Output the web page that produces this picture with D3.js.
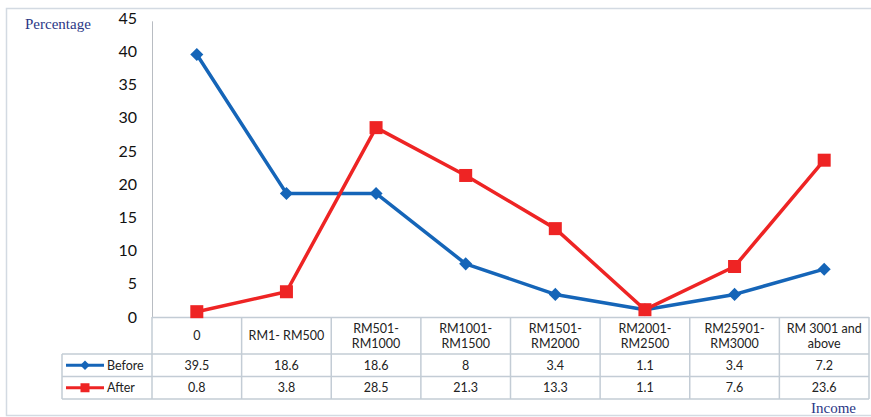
<!DOCTYPE html>
<html>
<head>
<meta charset="utf-8">
<script src="https://cdn.jsdelivr.net/npm/d3@7"></script>
<style>
  body { margin: 0; background: #fff; }
  svg { display: block; }
</style>
</head>
<body>
<div id="chart-area"></div>
<script>
const categories = ["0", "RM1- RM500", "RM501-\nRM1000", "RM1001-\nRM1500", "RM1501-\nRM2000", "RM2001-\nRM2500", "RM25901-\nRM3000", "RM 3001 and\nabove"]
const before = [39.5, 18.6, 18.6, 8, 3.4, 1.1, 3.4, 7.2]
const after = [0.8, 3.8, 28.5, 21.3, 13.3, 1.1, 7.6, 23.6]
const yTicks = [0, 5, 10, 15, 20, 25, 30, 35, 40, 45]

const series = [
  { name: "Before", values: before, color: "#1565b8", marker: "diamond" },
  { name: "After", values: after, color: "#ee2424", marker: "square" }
]

const W = 871, H = 417
const PLOT = { LEFT: 152, RIGHT: 869, TOP: 18, BOTTOM: 317 }
const ROW_CAT = 37, ROW = 22.5
const LEGEND_LEFT = 62
const FONT = "Lato, 'Open Sans', sans-serif"
const SERIF = "'Liberation Serif', 'DejaVu Serif', serif"

const svg = d3.select("#chart-area")
  .append("svg")
  .attr("width", W)
  .attr("height", H)

// outer frame
svg.append("rect")
  .attr("x", 6.5).attr("y", 8.5)
  .attr("width", W).attr("height", 407)
  .attr("fill", "none")
  .attr("stroke", "#d3dae2")
  .attr("stroke-width", 1.5)

const x = d3.scaleBand()
  .domain(categories)
  .range([PLOT.LEFT, PLOT.RIGHT])

const y = d3.scaleLinear()
  .domain([0, 45])
  .range([PLOT.BOTTOM, PLOT.TOP])

// y axis
const yAxis = d3.axisLeft(y).tickValues(yTicks).tickSize(0).tickPadding(15)
const yAxisGroup = svg.append("g")
  .attr("transform", `translate(${PLOT.LEFT},0)`)
  .call(yAxis)
yAxisGroup.select(".domain").remove()
yAxisGroup.selectAll("text")
  .attr("font-family", FONT)
  .attr("font-size", 16)
  .attr("fill", "#111")

svg.append("line")
  .attr("x1", PLOT.LEFT + 0.5).attr("x2", PLOT.LEFT + 0.5)
  .attr("y1", y(44.5)).attr("y2", PLOT.BOTTOM)
  .attr("stroke", "#b8bcc2")

svg.append("text")
  .attr("x", 25).attr("y", 29)
  .attr("font-family", SERIF)
  .attr("font-size", 15)
  .attr("fill", "#2b3786")
  .text("Percentage")

svg.append("text")
  .attr("x", 856).attr("y", 413)
  .attr("text-anchor", "end")
  .attr("font-family", SERIF)
  .attr("font-size", 15)
  .attr("fill", "#2b3786")
  .text("Income")

// data table
const table = svg.append("g")
const gridColor = "#c3ccd5"
const catBottom = PLOT.BOTTOM + ROW_CAT
const tableBottom = catBottom + ROW * series.length

// horizontal lines
table.append("line")
  .attr("x1", PLOT.LEFT).attr("x2", PLOT.RIGHT)
  .attr("y1", PLOT.BOTTOM + 0.5).attr("y2", PLOT.BOTTOM + 0.5)
  .attr("stroke", gridColor).attr("stroke-width", 1.5)
d3.range(series.length + 1).forEach(i => {
  const yy = catBottom + i * ROW
  table.append("line")
    .attr("x1", LEGEND_LEFT).attr("x2", PLOT.RIGHT)
    .attr("y1", yy).attr("y2", yy)
    .attr("stroke", gridColor).attr("stroke-width", 1.5)
})
// vertical lines
table.selectAll(".vline")
  .data(categories.concat(["end"]))
  .enter()
  .append("line")
  .attr("x1", (d, i) => PLOT.LEFT + i * x.bandwidth())
  .attr("x2", (d, i) => PLOT.LEFT + i * x.bandwidth())
  .attr("y1", PLOT.BOTTOM)
  .attr("y2", tableBottom)
  .attr("stroke", gridColor).attr("stroke-width", 1.5)
table.append("line")
  .attr("x1", LEGEND_LEFT).attr("x2", LEGEND_LEFT)
  .attr("y1", catBottom).attr("y2", tableBottom)
  .attr("stroke", gridColor).attr("stroke-width", 1.5)

// category labels
categories.forEach(c => {
  const lines = c.split("\n")
  const t = table.append("text")
    .attr("text-anchor", "middle")
    .attr("font-family", FONT)
    .attr("font-size", 12.5)
    .attr("fill", "#222")
  const cy = PLOT.BOTTOM + ROW_CAT / 2
  lines.forEach((l, i) => {
    t.append("tspan")
      .attr("x", x(c) + x.bandwidth() / 2)
      .attr("y", cy + 4.5 + (i - (lines.length - 1) / 2) * 15)
      .text(l)
  })
})

function marker(g, type, cx, cy, color, size) {
  if (type === "diamond") {
    g.append("path")
      .attr("d", d3.symbol(d3.symbolDiamond2, size * size * 0.9)())
      .attr("transform", `translate(${cx},${cy})`)
      .attr("fill", color)
  } else {
    g.append("rect")
      .attr("x", cx - size / 2).attr("y", cy - size / 2)
      .attr("width", size).attr("height", size)
      .attr("fill", color)
  }
}

// value rows
series.forEach((s, si) => {
  const rowY = catBottom + si * ROW + ROW / 2
  table.append("line")
    .attr("x1", 66).attr("x2", 104)
    .attr("y1", rowY).attr("y2", rowY)
    .attr("stroke", s.color).attr("stroke-width", 3)
  marker(table, s.marker, 85, rowY, s.color, s.marker === "diamond" ? 8 : 9)
  table.append("text")
    .attr("x", 107).attr("y", rowY + 4.5)
    .attr("font-family", FONT).attr("font-size", 12.5).attr("fill", "#222")
    .text(s.name)
  s.values.forEach((v, i) => {
    table.append("text")
      .attr("x", x(categories[i]) + x.bandwidth() / 2)
      .attr("y", rowY + 4.5)
      .attr("text-anchor", "middle")
      .attr("font-family", FONT).attr("font-size", 12.5).attr("fill", "#222")
      .text(v)
  })
})

// lines
const line = d3.line()
  .x((d, i) => x(categories[i]) + x.bandwidth() / 2)
  .y(d => y(d))

series.forEach(s => {
  const g = svg.append("g")
  g.append("path")
    .datum(s.values)
    .attr("d", line)
    .attr("fill", "none")
    .attr("stroke", s.color)
    .attr("stroke-width", 3.5)
    .attr("stroke-linejoin", "round")
  s.values.forEach((v, i) => {
    marker(g, s.marker, x(categories[i]) + x.bandwidth() / 2, y(v), s.color, s.marker === "diamond" ? 11 : 13)
  })
})
</script>
</body>
</html>
